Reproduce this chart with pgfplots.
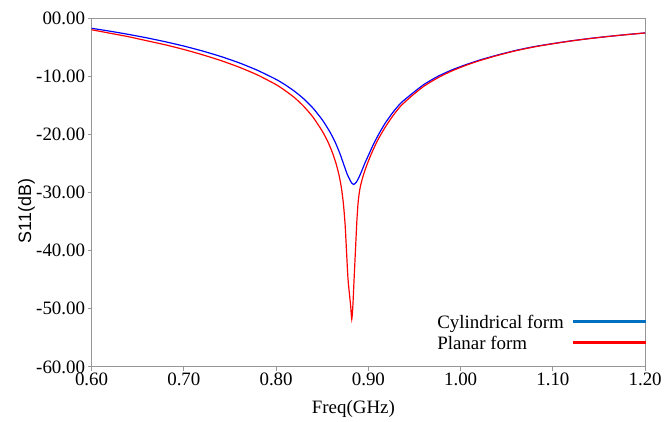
\documentclass[border=0pt]{standalone}
\usepackage{fontspec}
\setmainfont{Liberation Serif}
\newfontfamily\labsans{Liberation Sans}
\usepackage{pgfplots}
\pgfplotsset{compat=1.18}
\definecolor{legblue}{RGB}{0,112,192}
\definecolor{axgray}{RGB}{150,150,150}

\pgfplotstableread{
f      s11
0.600  -1.70
0.620  -2.20
0.640  -2.75
0.660  -3.35
0.680  -4.02
0.700  -4.76
0.720  -5.60
0.740  -6.55
0.760  -7.65
0.780  -8.95
0.800  -10.50
0.810  -11.45
0.820  -12.55
0.830  -13.85
0.840  -15.45
0.850  -17.45
0.858  -19.45
0.864  -21.3
0.869  -23.2
0.873  -25.0
0.877  -26.8
0.880  -27.8
0.882  -28.35
0.884  -28.6
0.887  -28.2
0.890  -27.3
0.893  -26.2
0.896  -25.0
0.900  -23.6
0.905  -21.85
0.911  -20.0
0.918  -18.1
0.926  -16.3
0.935  -14.6
0.947  -13.0
0.960  -11.4
0.975  -10.0
0.990  -8.9
1.005  -8.0
1.020  -7.2
1.040  -6.3
1.060  -5.5
1.080  -4.85
1.100  -4.33
1.120  -3.86
1.140  -3.45
1.160  -3.10
1.180  -2.78
1.200  -2.50
}\cylindrical

\pgfplotstableread{
f      s11
0.600  -1.95
0.620  -2.55
0.640  -3.15
0.660  -3.85
0.680  -4.55
0.700  -5.35
0.720  -6.25
0.740  -7.25
0.760  -8.40
0.780  -9.75
0.800  -11.4
0.810  -12.45
0.820  -13.65
0.830  -15.15
0.840  -17.0
0.850  -19.4
0.856  -21.2
0.861  -23.1
0.865  -25.0
0.8685 -27.2
0.871  -29.4
0.873  -32.0
0.8748 -35.5
0.8763 -40.0
0.878  -45.0
0.8808 -49.5
0.882  -51.8
0.8832 -49.5
0.8845 -45.0
0.886  -40.0
0.8875 -35.0
0.889  -31.5
0.891  -29.2
0.894  -27.3
0.898  -25.4
0.903  -23.4
0.910  -21.0
0.918  -18.8
0.926  -16.9
0.935  -15.1
0.947  -13.35
0.960  -11.7
0.975  -10.25
0.990  -9.08
1.005  -8.12
1.020  -7.30
1.040  -6.37
1.060  -5.56
1.080  -4.90
1.100  -4.36
1.120  -3.88
1.140  -3.47
1.160  -3.11
1.180  -2.79
1.200  -2.50
}\planar

\begin{document}
\begin{tikzpicture}
\begin{axis}[
    scale only axis,
    width=556pt, height=350pt,
    xmin=0.6, xmax=1.2, ymin=-60, ymax=0,
    xtick={0.6,0.7,...,1.2},
    xticklabels={0.60,0.70,0.80,0.90,1.00,1.10,1.20},
    ytick={-60,-50,...,0},
    yticklabels={-60.00,-50.00,-40.00,-30.00,-20.00,-10.00,00.00},
    tick align=outside,
    major tick length=4pt,
    tick style={axgray, line width=0.9pt},
    axis line style={axgray, line width=1pt},
    xtick pos=bottom, ytick pos=left,
    ticklabel style={font=\fontsize{19}{22}\selectfont},
    yticklabel style={xshift=1pt},
    xticklabel style={yshift=1pt},
    clip mode=individual,
    legend plot pos=right,
    legend cell align=left,
    legend style={at={(axis description cs:1.0,0.155)}, anchor=north east,
        draw=none, fill=none, font=\fontsize{19}{21}\selectfont,
        row sep=2pt, inner sep=0pt},
]
\addplot[blue, line width=1.2pt, smooth, tension=0.4, forget plot] table[x=f, y=s11] {\cylindrical};
\addplot[red, line width=1.2pt, smooth, tension=0.4, forget plot] table[x=f, y=s11] {\planar};
\addlegendimage{legend image code/.code={\fill[legblue] (0pt,0pt) rectangle (72pt,2pt);}}
\addlegendentry{Cylindrical form\rule{7pt}{0pt}}
\addlegendimage{legend image code/.code={\fill[red] (0pt,0pt) rectangle (72pt,2pt);}}
\addlegendentry{Planar form}
\node[font=\fontsize{19}{22}\selectfont, anchor=north] at (axis description cs:0.473,-0.087) {Freq(GHz)};
\node[font=\labsans\fontsize{18}{21}\selectfont, rotate=90, anchor=north] at (axis description cs:-0.139,0.447) {S11(dB)};
\end{axis}
\path[use as bounding box] (-92pt,-54.5pt) rectangle (573pt,368.5pt);
\end{tikzpicture}
\end{document}
